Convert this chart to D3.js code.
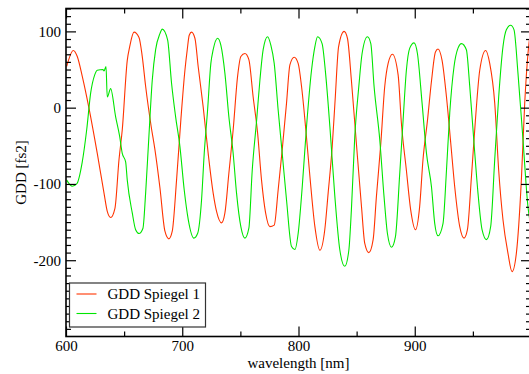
<!DOCTYPE html>
<html>
<head>
<meta charset="utf-8">
<script src="https://cdn.jsdelivr.net/npm/d3@7/dist/d3.min.js"></script>
<style>
  html, body { margin: 0; padding: 0; background: #fff; }
  svg text { font-family: "Liberation Serif", "Times New Roman", serif; }
</style>
</head>
<body>
<div id="chart"></div>
<script>
// wavelength [nm], GDD [fs^2]
const spiegel1 = [
  [600.6, 54], [606.3, 75], [609.7, 67], [614, 41], [619.8, -1], [626.9, -60], [632.7, -112],
  [635.5, -136], [638.4, -144], [642.1, -132], [645.6, -68], [648.4, -29], [652.7, 62], [654.8, 80],
  [658.5, 99], [662.8, 92], [665.6, 67], [668.5, 28], [673.3, -25], [676.5, -55], [680.8, -105],
  [685.1, -162], [688.5, -172], [691.4, -162], [695.1, -95], [698.8, -16], [702.3, 49], [704.3, 76],
  [706, 95], [708, 99], [710.9, 91], [713.7, 54], [718, 1], [722.3, -60], [726.6, -112],
  [729.5, -136], [733.8, -151], [736.7, -138], [740.1, -86], [743.8, -29], [747.6, 41], [750.4, 67],
  [753.9, 71], [757.3, 63], [761, 14], [764.8, -33], [768.2, -95], [771.7, -138], [775.4, -156],
  [779.1, -154], [782.5, -108], [786, -55], [789.7, 6], [792.6, 56], [796.3, 66], [799.7, 58],
  [802.6, 28], [806.3, -29], [809.8, -90], [814.1, -156], [818.4, -187], [822.6, -160], [825.5, -112],
  [829, -51], [831.5, 10], [834.5, 80], [839.2, 100], [842.1, 91], [845.5, 36], [849.8, -47],
  [854.2, -130], [857, -178], [860.5, -190], [864.2, -173], [867, -117], [870.8, -47], [874.2, 28],
  [877.1, 58], [880.8, 70], [885.7, 43], [888.5, -20], [892.8, -82], [896.5, -134], [900.6, -160],
  [904.2, -130], [907.1, -68], [911, -16], [914.4, 35], [917.8, 73], [920, 77], [923.5, 62],
  [927.3, 14], [931, -47], [934.4, -104], [938.7, -156], [942.4, -171], [945.3, -160], [948.8, -90],
  [952.2, -16], [955.9, 49], [961, 75], [964.5, 58], [968.8, 6], [972.2, -82], [975.9, -147],
  [980.2, -191], [983.7, -215], [987.4, -191], [991.7, -95], [994.6, 6], [997.4, 71], [1000, 105]
];
const spiegel2 = [
  [600.6, -95], [605.4, -103], [609.2, -100], [614, -71], [617.8, -29], [621.2, 19], [624.7, 43],
  [626.9, 49], [631.8, 50], [632.7, 48], [634.4, 54], [635.5, 14], [638.4, 25], [642.7, -12],
  [646.2, -38], [648.4, -60], [651.3, -71], [652.7, -95], [657, -138], [659.9, -160], [662.8, -165],
  [666.2, -158], [668.5, -112], [671.3, -38], [674.2, 36], [677.1, 76], [680.8, 97], [682.8, 103],
  [687.4, 89], [690.8, 32], [694.3, -12], [698, -51], [701.7, -108], [705.2, -147], [710, -171],
  [713.2, -165], [716.6, -121], [718.9, -60], [721.8, -3], [724.6, 58], [726.6, 76], [730.4, 91],
  [733.2, 82], [736.7, 45], [740.1, -12], [743.8, -60], [746.7, -112], [750.4, -156], [753.9, -171],
  [757.3, -158], [760.2, -82], [764, -16], [766.8, 36], [769.6, 76], [773.4, 93], [776.2, 82],
  [779.1, 58], [782.5, -3], [786, -60], [789.7, -121], [794, -182], [796.9, -186], [799.7, -165],
  [803.2, -104], [806.9, -25], [811.2, 49], [814.1, 80], [816.4, 93], [820.3, 84], [823.3, 45],
  [827, -25], [831.2, -115], [835.5, -186], [839.8, -208], [843.3, -187], [845.5, -134], [848.4, -38],
  [851.9, 28], [854.7, 71], [859.3, 93], [862.2, 84], [865, 28], [869.9, -42], [873.6, -117],
  [876.5, -165], [880, -183], [883.4, -169], [887.1, -86], [890, -16], [892.8, 49], [895.7, 78],
  [899.4, 85], [902.3, 71], [906.3, 6], [910.1, -60], [914.4, -104], [917.2, -152], [920, -168],
  [924.3, -152], [927.3, -82], [930.1, -7], [933.8, 54], [937.2, 78], [940.2, 84], [944.4, 76],
  [947.3, 28], [951, -47], [954.4, -112], [957.9, -160], [961.7, -173], [965.3, -156], [968.8, -68],
  [972.2, 14], [975.9, 80], [978.8, 102], [982.5, 108], [985.4, 102], [988.8, 45], [993.1, -42],
  [997.4, -130], [999, -148]
];
const seriesNames = ['GDD Spiegel 1', 'GDD Spiegel 2'];
const seriesColors = ['#ff3300', '#00e600'];
const xMajor = [600, 700, 800, 900, 1000];
const yMajor = [-200, -100, 0, 100];

const FONT = '"Liberation Serif", "Times New Roman", serif';
const W = 529, H = 374;
const m = { t: 8.5, r: -2, b: 37.5, l: 66 };
const innerW = W - m.l - m.r;
const innerH = H - m.t - m.b;

const svg = d3.select('#chart').append('svg').attr('width', W).attr('height', H)
  .style('display', 'block');
const g = svg.append('g').attr('transform', `translate(${m.l},${m.t})`);

const x = d3.scaleLinear().domain([600, 1000]).range([0, innerW]);
const y = d3.scaleLinear().domain([-300, 130]).range([innerH, 0]);

svg.append('defs').append('clipPath').attr('id', 'clip')
  .append('rect').attr('width', innerW).attr('height', innerH);

// curves
const line = d3.line().x(d => x(d[0])).y(d => y(d[1])).curve(d3.curveMonotoneX);
const curves = g.append('g').attr('clip-path', 'url(#clip)');
[spiegel1, spiegel2].forEach((s, i) => {
  curves.append('path').datum(s)
    .attr('fill', 'none').attr('stroke', seriesColors[i]).attr('stroke-width', 1.1)
    .attr('d', line);
});

// axes, ticks pointing inwards on all four sides
const xMinor = d3.range(650, 1000, 100);
const yMinor = d3.range(-300, 131, 10).filter(v => v % 100 !== 0);
const fmt = d => String(d);

function styleAxis(sel) {
  sel.attr('font-family', FONT).attr('font-size', 15);
  sel.select('.domain').remove();
  sel.selectAll('.tick line').attr('stroke', '#000').attr('stroke-width', 1.2);
  sel.selectAll('text').attr('fill', '#000');
}

g.append('g').attr('transform', `translate(0,${innerH})`)
  .call(d3.axisBottom(x).tickValues(xMajor.slice(0, 4)).tickSize(-10).tickPadding(4).tickFormat(fmt))
  .call(styleAxis);
g.append('g').attr('transform', `translate(0,${innerH})`)
  .call(d3.axisBottom(x).tickValues(xMinor).tickSize(-5).tickFormat(''))
  .call(styleAxis);
g.append('g')
  .call(d3.axisTop(x).tickValues(xMajor).tickSize(-10).tickFormat(''))
  .call(styleAxis);
g.append('g')
  .call(d3.axisTop(x).tickValues(xMinor).tickSize(-5).tickFormat(''))
  .call(styleAxis);

g.append('g')
  .call(d3.axisLeft(y).tickValues(yMajor).tickSize(-10).tickPadding(5).tickFormat(fmt))
  .call(styleAxis);
g.append('g')
  .call(d3.axisLeft(y).tickValues(yMinor).tickSize(-5).tickFormat(''))
  .call(styleAxis);
g.append('g').attr('transform', `translate(${innerW},0)`)
  .call(d3.axisRight(y).tickValues(yMajor).tickSize(-10).tickFormat(''))
  .call(styleAxis);
g.append('g').attr('transform', `translate(${innerW},0)`)
  .call(d3.axisRight(y).tickValues(yMinor).tickSize(-5).tickFormat(''))
  .call(styleAxis);

g.append('rect').attr('width', innerW).attr('height', innerH)
  .attr('fill', 'none').attr('stroke', '#000').attr('stroke-width', 1.6);

// axis titles
svg.append('text')
  .attr('x', m.l + innerW / 2).attr('y', 368)
  .attr('text-anchor', 'middle').attr('font-family', FONT).attr('font-size', 15)
  .text('wavelength [nm]');
svg.append('text')
  .attr('transform', `translate(26,${m.t + innerH / 2}) rotate(-90)`)
  .attr('text-anchor', 'middle').attr('font-family', FONT).attr('font-size', 15)
  .text('GDD [fs2]');

// legend
const lg = svg.append('g').attr('transform', 'translate(69.5,283)');
lg.append('rect').attr('width', 136).attr('height', 44)
  .attr('fill', '#fff').attr('stroke', '#333').attr('stroke-width', 1.2);
seriesNames.forEach((name, i) => {
  const yy = 11 + i * 19.5;
  lg.append('line').attr('x1', 7).attr('x2', 27).attr('y1', yy).attr('y2', yy)
    .attr('stroke', seriesColors[i]).attr('stroke-width', 1.1);
  lg.append('text').attr('x', 38).attr('y', yy).attr('dy', '0.35em')
    .attr('font-family', FONT).attr('font-size', 15).text(name);
});
</script>
</body>
</html>
